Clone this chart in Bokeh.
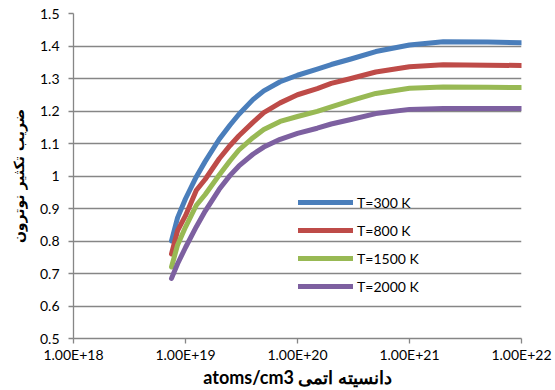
from bokeh.plotting import figure
from bokeh.models import FixedTicker, CustomJSTickFormatter, Legend, LegendItem
from bokeh.embed import file_html
from bokeh.resources import INLINE

# ---- data ----
density = [7.5e18, 8.5e18, 1e19, 1.25e19, 1.5e19, 2e19, 2.5e19, 3e19, 4e19, 5e19, 7e19,
           1e20, 1.5e20, 2e20, 3e20, 5e20, 1e21, 2e21, 5e21, 1e22]
k_300 = [0.80, 0.872, 0.93, 0.998, 1.045, 1.113, 1.157, 1.19, 1.235, 1.262, 1.29,
         1.31, 1.329, 1.343, 1.36, 1.383, 1.403, 1.413, 1.412, 1.41]
k_800 = [0.76, 0.832, 0.878, 0.956, 0.99, 1.053, 1.094, 1.124, 1.165, 1.195, 1.225,
         1.25, 1.269, 1.285, 1.30, 1.32, 1.336, 1.342, 1.341, 1.34]
k_1500 = [0.72, 0.788, 0.843, 0.91, 0.943, 1.003, 1.047, 1.08, 1.118, 1.143, 1.168,
          1.183, 1.199, 1.213, 1.232, 1.254, 1.27, 1.274, 1.273, 1.272]
k_2000 = [0.685, 0.73, 0.78, 0.844, 0.892, 0.959, 1.002, 1.031, 1.067, 1.089, 1.113,
          1.131, 1.147, 1.16, 1.174, 1.192, 1.205, 1.208, 1.208, 1.208]
series_labels = ["T=300 K", "T=800 K", "T=1500 K", "T=2000 K"]
series_colors = ["#4A7EBB", "#BE4B48", "#98B954", "#7D60A0"]
x_ticks = [1e18, 1e19, 1e20, 1e21, 1e22]
y_ticks = [0.5, 0.6, 0.7, 0.8, 0.9, 1.0, 1.1, 1.2, 1.3, 1.4, 1.5]
x_title = "atoms/cm3 دانسیته اتمی"
y_title = "ضریب تکثیر نوترون"

FONT = "Lato"
GRID = "#868686"

p = figure(width=555, height=390, x_axis_type="log",
           x_range=(1e18, 1e22), y_range=(0.5, 1.5),
           output_backend="svg", toolbar_location=None,
           min_border_left=73, min_border_right=34,
           min_border_top=13, min_border_bottom=52)
p.outline_line_color = None
p.background_fill_color = "white"
p.border_fill_color = "white"
p.xgrid.visible = False
p.ygrid.grid_line_color = GRID
p.ygrid.grid_line_width = 1.3
p.ygrid.ticker = FixedTicker(ticks=y_ticks)

p.xaxis.ticker = FixedTicker(ticks=x_ticks)
p.xaxis.formatter = CustomJSTickFormatter(code="return tick.toExponential(2).toUpperCase();")
p.yaxis.ticker = FixedTicker(ticks=y_ticks)
p.yaxis.formatter = CustomJSTickFormatter(code="return String(Math.round(tick*10)/10);")

for ax in (p.xaxis, p.yaxis):
    ax.axis_line_color = GRID
    ax.axis_line_width = 1.3
    ax.major_tick_line_color = GRID
    ax.major_tick_line_width = 1.3
    ax.major_tick_out = 5
    ax.major_tick_in = 0
    ax.minor_tick_line_color = None
    ax.major_label_text_font = FONT
    ax.major_label_text_font_size = "14px"
    ax.major_label_text_color = "#000000"

p.yaxis.major_label_standoff = 9
p.xaxis.major_label_standoff = 2

p.xaxis.axis_label = x_title
p.xaxis.axis_label_text_font = FONT
p.xaxis.axis_label_text_font_style = "bold"
p.xaxis.axis_label_text_font_size = "18px"
p.xaxis.axis_label_text_color = "#000000"
p.xaxis.axis_label_standoff = 0

p.yaxis.axis_label = y_title
p.yaxis.axis_label_text_font = "DejaVu Sans"
p.yaxis.axis_label_text_font_style = "bold"
p.yaxis.axis_label_text_font_size = "14px"
p.yaxis.axis_label_text_color = "#000000"
p.yaxis.axis_label_standoff = 10

items = []
for ys, lab, col in zip([k_300, k_800, k_1500, k_2000], series_labels, series_colors):
    r = p.line(density, ys, line_color=col, line_width=5, line_cap="round", line_join="round")
    items.append(LegendItem(label=lab, renderers=[r]))

legend = Legend(items=items, location=(225, 41), orientation="vertical",
                glyph_width=55, glyph_height=22, label_height=22, spacing=6,
                label_standoff=4, padding=0, margin=0,
                border_line_color=None, background_fill_alpha=0,
                label_text_font=FONT, label_text_font_size="14px",
                label_text_color="#000000")
p.add_layout(legend)

open("out.html", "w").write(file_html(p, INLINE))
